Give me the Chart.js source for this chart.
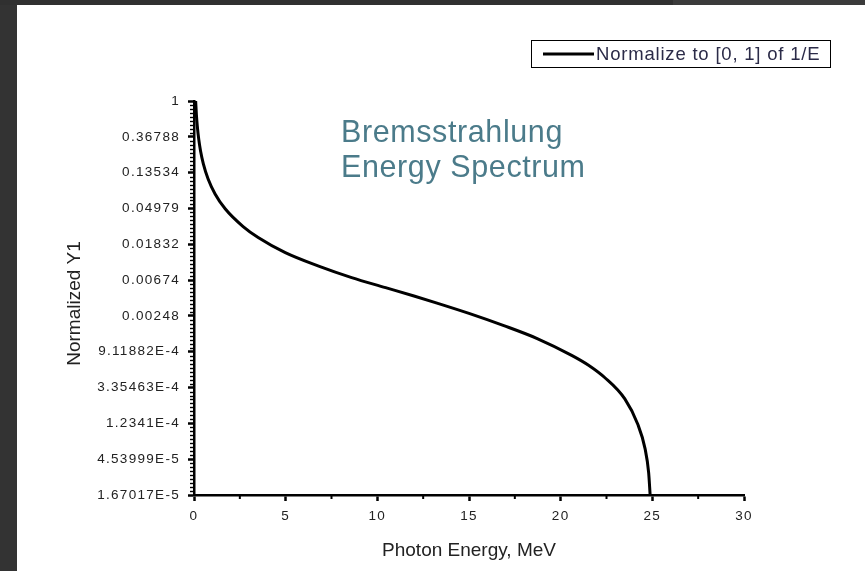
<!DOCTYPE html>
<html>
<head>
<meta charset="utf-8">
<script src="https://cdn.jsdelivr.net/npm/chart.js@4.4.1/dist/chart.umd.min.js"></script>
<style>
  html, body { margin: 0; padding: 0; background: #fff; }
  #wrap { position: relative; width: 865px; height: 571px; overflow: hidden; background: #fff; }
  #wrap canvas { position: absolute; left: 0; top: 0; }
  .frame { position: absolute; }
  #frameLeft { left: 0; top: 0; width: 17px; height: 571px; background: #333; }
  #frameTop { left: 0; top: 0; width: 865px; height: 5px; background: #303030; }
  #frameTopRight { left: 673px; top: 0; width: 192px; height: 5px; background: #3b3b3b; }
</style>
</head>
<body>
<div id="wrap">
  <canvas id="chart" width="865" height="571"></canvas>
  <div class="frame" id="frameLeft"></div>
  <div class="frame" id="frameTop"></div>
  <div class="frame" id="frameTopRight"></div>
</div>
<script>
// Photon energy (MeV) and the spectrum normalised to [0, 1]
const energyMeV = [0.09, 0.13, 0.18, 0.26, 0.36, 0.51, 0.77, 1.15, 1.7, 2.68, 3.5, 4.98,
                   6.8, 8.6, 10.45, 12, 13.3, 15, 16.9, 18.75, 20.6, 21.5, 22.4, 23.5,
                   24.2, 24.6, 24.8, 24.88];
const normalizedY1 = [1, 0.685, 0.496, 0.342, 0.246, 0.173, 0.113, 0.0746, 0.0493, 0.030, 0.0221, 0.0145,
                      0.00995, 0.00722, 0.00546, 0.00432, 0.00352, 0.00266, 0.00189, 0.00131, 0.000825, 0.00063, 0.000444, 0.000244,
                      0.000121, 0.0000614, 0.000031, 0.0000167017];

// Log-axis tick labels (powers of e)
const yTickLabels = ['1', '0.36788', '0.13534', '0.04979', '0.01832', '0.00674', '0.00248',
                     '9.11882E-4', '3.35463E-4', '1.2341E-4', '4.53999E-5', '1.67017E-5'];
const xTickValues = [0, 5, 10, 15, 20, 25, 30];

const seriesLabel = 'Normalize to [0, 1] of 1/E';
const xTitle = 'Photon Energy, MeV';
const yTitle = 'Normalized Y1';
const noteLines = ['Bremsstrahlung', 'Energy Spectrum'];

const yTickValues = yTickLabels.map(Number);
const FONT = '"Liberation Sans", Arial, Helvetica, sans-serif';

// Wide lettering for the axis numbers, plus minor ticks, titles, legend and note
const decorations = {
  id: 'decorations',
  beforeDraw(chart) {
    chart.ctx.letterSpacing = '1.3px';
  },
  beforeDatasetsDraw(chart) {
    chart.ctx.letterSpacing = '0px';
    const ctx = chart.ctx;
    const xs = chart.scales.x, ys = chart.scales.y;
    ctx.save();
    ctx.strokeStyle = '#000';
    // minor ticks on the log axis
    ctx.lineWidth = 1.4;
    for (let i = 0; i < yTickValues.length - 1; i++) {
      const v0 = yTickValues[i], v1 = yTickValues[i + 1];
      for (let k = 1; k < 9; k++) {
        const v = v0 * Math.pow(v1 / v0, k / 9);
        const py = Math.round(ys.getPixelForValue(v)) + 0.5;
        ctx.beginPath();
        ctx.moveTo(xs.left - 4, py);
        ctx.lineTo(xs.left, py);
        ctx.stroke();
      }
    }
    // minor ticks on the energy axis
    ctx.lineWidth = 2;
    for (let i = 0; i < xTickValues.length - 1; i++) {
      const v = (xTickValues[i] + xTickValues[i + 1]) / 2;
      const px = xs.getPixelForValue(v);
      ctx.beginPath();
      ctx.moveTo(px, ys.bottom);
      ctx.lineTo(px, ys.bottom + 4);
      ctx.stroke();
    }
    ctx.restore();
  },
  afterDraw(chart) {
    const ctx = chart.ctx;
    const area = chart.chartArea;
    ctx.save();
    ctx.letterSpacing = '0px';

    // axis titles
    ctx.fillStyle = '#222';
    ctx.font = '19px ' + FONT;
    ctx.textAlign = 'center';
    ctx.textBaseline = 'alphabetic';
    ctx.fillText(xTitle, (area.left + area.right) / 2, 556);
    ctx.save();
    ctx.translate(80, 303.5);
    ctx.rotate(-Math.PI / 2);
    ctx.fillText(yTitle, 0, 0);
    ctx.restore();

    // legend box
    const ds = chart.data.datasets[0];
    ctx.strokeStyle = '#000';
    ctx.lineWidth = 1;
    ctx.strokeRect(531.5, 40.5, 299, 27);
    ctx.strokeStyle = ds.borderColor;
    ctx.lineWidth = 3;
    ctx.beginPath();
    ctx.moveTo(543, 54);
    ctx.lineTo(594, 54);
    ctx.stroke();
    ctx.fillStyle = '#2b2b48';
    ctx.font = '18.5px ' + FONT;
    ctx.letterSpacing = '0.8px';
    ctx.textAlign = 'left';
    ctx.textBaseline = 'middle';
    ctx.fillText(ds.label, 596, 55);

    // note
    ctx.letterSpacing = '0.6px';
    ctx.fillStyle = '#4b7b8a';
    ctx.font = '30.5px ' + FONT;
    ctx.textBaseline = 'alphabetic';
    ctx.fillText(noteLines[0], 341, 142);
    ctx.fillText(noteLines[1], 341, 177);
    ctx.restore();
  }
};

new Chart(document.getElementById('chart'), {
  type: 'line',
  data: {
    datasets: [{
      label: seriesLabel,
      data: energyMeV.map((e, i) => ({ x: e, y: normalizedY1[i] })),
      borderColor: '#000',
      borderWidth: 3,
      pointRadius: 0,
      fill: false,
      cubicInterpolationMode: 'monotone',
      clip: 6
    }]
  },
  options: {
    responsive: false,
    animation: false,
    devicePixelRatio: 1,
    layout: { padding: { left: 0, top: 101, right: 121, bottom: 0 } },
    plugins: { legend: { display: false }, tooltip: { enabled: false } },
    scales: {
      x: {
        type: 'linear',
        min: 0,
        max: 30,
        afterFit(scale) { scale.height = 76; },
        afterBuildTicks(scale) { scale.ticks = xTickValues.map(v => ({ value: v })); },
        border: { display: true, color: '#000', width: 2.5 },
        grid: { display: true, drawOnChartArea: false, drawTicks: true, tickLength: 6, tickWidth: 2.5, color: '#000' },
        ticks: { color: '#222', font: { family: FONT, size: 13.5 }, padding: 7, maxRotation: 0,
                 callback: v => String(v) },
        title: { display: false }
      },
      y: {
        type: 'logarithmic',
        min: yTickValues[yTickValues.length - 1],
        max: 1,
        afterFit(scale) { scale.width = 194; },
        afterBuildTicks(scale) { scale.ticks = yTickValues.map(v => ({ value: v, major: true })); },
        border: { display: true, color: '#000', width: 2.5 },
        grid: { display: true, drawOnChartArea: false, drawTicks: true, tickLength: 6, tickWidth: 2.5, color: '#000' },
        ticks: { color: '#222', font: { family: FONT, size: 13.5 }, padding: 8, autoSkip: false,
                 callback: (v, i) => yTickLabels[i] },
        title: { display: false }
      }
    }
  },
  plugins: [decorations]
});
</script>
</body>
</html>
